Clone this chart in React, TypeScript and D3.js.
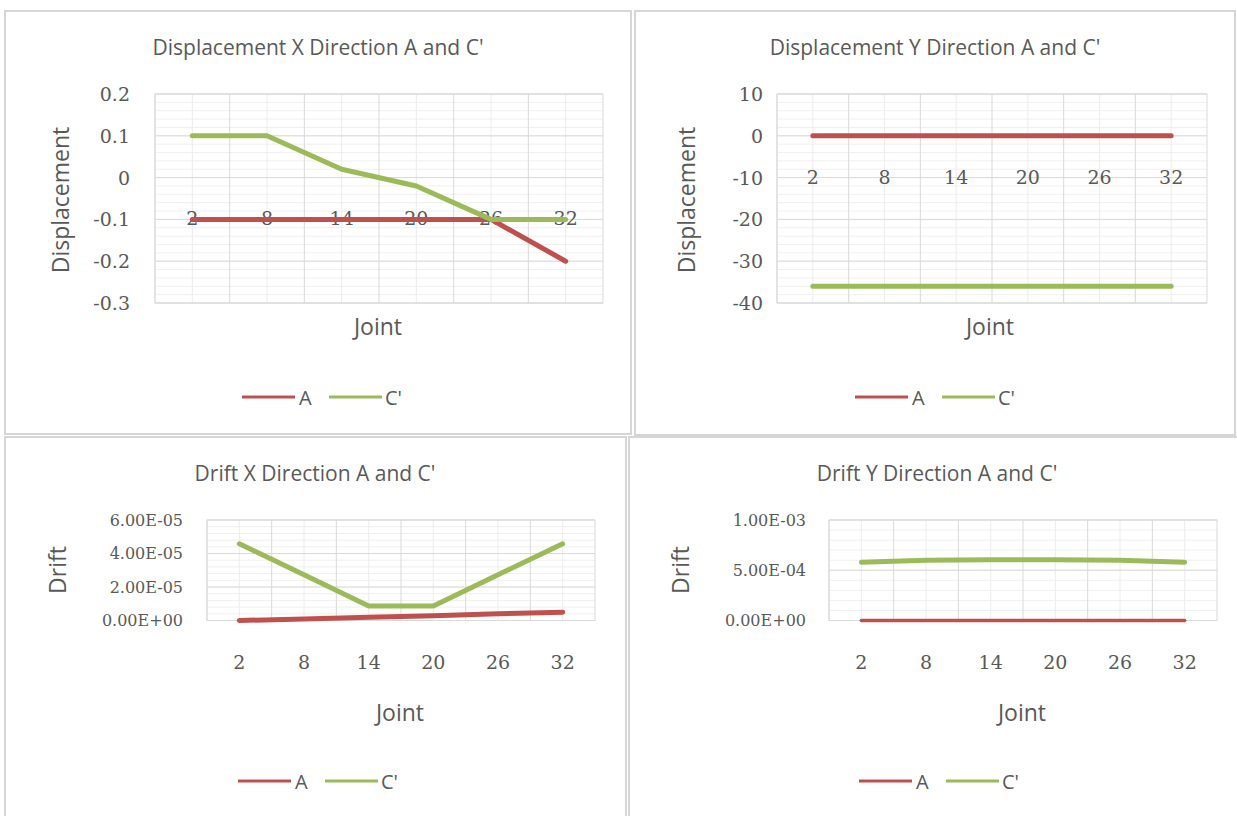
import React from "react";
import * as d3 from "d3";

// Joint identifiers along the category axis
const joints = ["2", "8", "14", "20", "26", "32"];

// Displacement, X direction
const dispXA = [-0.1, -0.1, -0.1, -0.1, -0.1, -0.2];
const dispXC = [0.1, 0.1, 0.02, -0.02, -0.1, -0.1];
const dispXTicks = [0.2, 0.1, 0, -0.1, -0.2, -0.3];
const dispXTickLabels = ["0.2", "0.1", "0", "-0.1", "-0.2", "-0.3"];

// Displacement, Y direction
const dispYA = [0, 0, 0, 0, 0, 0];
const dispYC = [-36, -36, -36, -36, -36, -36];
const dispYTicks = [10, 0, -10, -20, -30, -40];
const dispYTickLabels = ["10", "0", "-10", "-20", "-30", "-40"];

// Drift, X direction
const driftXA = [0, 0.9e-6, 2.0e-6, 2.9e-6, 4.1e-6, 4.9e-6];
const driftXC = [4.58e-5, 2.73e-5, 8.7e-6, 8.7e-6, 2.73e-5, 4.58e-5];
const driftXTicks = [6e-5, 4e-5, 2e-5, 0];
const driftXTickLabels = ["6.00E-05", "4.00E-05", "2.00E-05", "0.00E+00"];

// Drift, Y direction
const driftYA = [0, 0, 0, 0, 0, 0];
const driftYC = [5.8e-4, 6.0e-4, 6.05e-4, 6.05e-4, 6.0e-4, 5.8e-4];
const driftYTicks = [1e-3, 5e-4, 0];
const driftYTickLabels = ["1.00E-03", "5.00E-04", "0.00E+00"];

const seriesNames = ["A", "C'"];
const RED = "#C0504D";
const GREEN = "#9BBB59";
const TEXT = "#595959";
const SANS = "'Open Sans', sans-serif";
const SERIF = "'DejaVu Serif', serif";

type PanelProps = {
  box: { x: number; y: number; w: number; h: number };
  plot: { l: number; r: number; t: number; b: number };
  title: string;
  titlePos: [number, number];
  yTitle: string;
  yTitlePos: [number, number];
  xTitlePos: [number, number];
  legendPos: [number, number];
  ticks: number[];
  tickLabels: string[];
  yLabelRight: number;
  yFont: number;
  xLabelY: number;
  a: number[];
  c: number[];
  aWidth: number;
  cWidth: number;
};

function Panel(p: PanelProps) {
  const { plot } = p;
  const yMin = d3.min(p.ticks) as number;
  const yMax = d3.max(p.ticks) as number;
  const y = d3.scaleLinear().domain([yMin, yMax]).range([plot.b, plot.t]);
  const x = d3.scaleBand<string>().domain(joints).range([plot.l, plot.r]).padding(0);
  const cx = (j: string) => (x(j) as number) + x.bandwidth() / 2;

  const step = (yMax - yMin) / (p.ticks.length - 1);
  const minorTicks = d3.range(0, (p.ticks.length - 1) * 5 + 1).map((i) => yMin + (i * step) / 5);

  const line = d3
    .line<number>()
    .x((_, i) => cx(joints[i]))
    .y((v) => y(v));

  const [lx, ly] = p.legendPos;

  return (
    <g>
      <rect x={p.box.x} y={p.box.y} width={p.box.w} height={p.box.h} fill="#fff" stroke="#d6d6d6" strokeWidth={2} />
      <text x={p.titlePos[0]} y={p.titlePos[1]} textAnchor="middle" dominantBaseline="central" fontFamily={SANS} fontSize={21} fill={TEXT}>
        {p.title}
      </text>
      {/* minor horizontal grid */}
      {minorTicks.map((v, i) => (
        <line key={"mh" + i} x1={plot.l} x2={plot.r} y1={y(v)} y2={y(v)} stroke="#efefef" strokeWidth={1} />
      ))}
      {/* minor vertical grid at category centres */}
      {joints.map((j) => (
        <line key={"mv" + j} x1={cx(j)} x2={cx(j)} y1={plot.t} y2={plot.b} stroke="#ececec" strokeWidth={1} />
      ))}
      {/* major vertical grid at category boundaries */}
      {joints.map((j) => (
        <line key={"v" + j} x1={x(j) as number} x2={x(j) as number} y1={plot.t} y2={plot.b} stroke="#d9d9d9" strokeWidth={1} />
      ))}
      {/* major horizontal grid */}
      {p.ticks.map((v, i) => (
        <line key={"h" + i} x1={plot.l} x2={plot.r} y1={y(v)} y2={y(v)} stroke="#d9d9d9" strokeWidth={1} />
      ))}
      <rect x={plot.l} y={plot.t} width={plot.r - plot.l} height={plot.b - plot.t} fill="none" stroke="#d9d9d9" strokeWidth={1} />
      {/* y tick labels */}
      {p.ticks.map((v, i) => (
        <text key={"yt" + i} x={p.yLabelRight} y={y(v)} textAnchor="end" dominantBaseline="central" fontFamily={SERIF} fontSize={p.yFont} fill={TEXT}>
          {p.tickLabels[i]}
        </text>
      ))}
      {/* category labels */}
      {joints.map((j) => (
        <text key={"xt" + j} x={cx(j)} y={p.xLabelY} textAnchor="middle" dominantBaseline="central" fontFamily={SERIF} fontSize={19} fill={TEXT}>
          {j}
        </text>
      ))}
      <path d={line(p.a) as string} fill="none" stroke={RED} strokeWidth={p.aWidth} strokeLinecap="round" strokeLinejoin="round" />
      <path d={line(p.c) as string} fill="none" stroke={GREEN} strokeWidth={p.cWidth} strokeLinecap="round" strokeLinejoin="round" />
      <text
        transform={`translate(${p.yTitlePos[0]},${p.yTitlePos[1]}) rotate(-90)`}
        textAnchor="middle"
        dominantBaseline="central"
        fontFamily={SANS}
        fontSize={23}
        fill={TEXT}
      >
        {p.yTitle}
      </text>
      <text x={p.xTitlePos[0]} y={p.xTitlePos[1]} textAnchor="middle" dominantBaseline="central" fontFamily={SANS} fontSize={23} fill={TEXT}>
        Joint
      </text>
      {/* legend */}
      <line x1={lx - 82} x2={lx - 29} y1={ly} y2={ly} stroke={RED} strokeWidth={3} />
      <text x={lx - 25} y={ly} dominantBaseline="central" fontFamily={SANS} fontSize={20} fill={TEXT}>
        {seriesNames[0]}
      </text>
      <line x1={lx + 5} x2={lx + 58} y1={ly} y2={ly} stroke={GREEN} strokeWidth={3} />
      <text x={lx + 61} y={ly} dominantBaseline="central" fontFamily={SANS} fontSize={20} fill={TEXT}>
        {seriesNames[1]}
      </text>
    </g>
  );
}

export default function App() {
  return (
    <svg width={1237} height={816} style={{ position: "absolute", left: 0, top: 0 }}>
      <rect x={0} y={0} width={1237} height={816} fill="#fff" />
      <Panel
        box={{ x: 5, y: 11, w: 626, h: 423 }}
        plot={{ l: 155, r: 603, t: 94, b: 303 }}
        title="Displacement X Direction A and C'"
        titlePos={[318, 47]}
        yTitle="Displacement"
        yTitlePos={[60, 200]}
        xTitlePos={[378, 326]}
        legendPos={[324, 397]}
        ticks={dispXTicks}
        tickLabels={dispXTickLabels}
        yLabelRight={130}
        yFont={19}
        xLabelY={218}
        a={dispXA}
        c={dispXC}
        aWidth={5}
        cWidth={5}
      />
      <Panel
        box={{ x: 635, y: 11, w: 600, h: 424 }}
        plot={{ l: 777, r: 1207, t: 94, b: 303 }}
        title="Displacement Y Direction A and C'"
        titlePos={[935, 47]}
        yTitle="Displacement"
        yTitlePos={[686, 200]}
        xTitlePos={[990, 326]}
        legendPos={[937, 397]}
        ticks={dispYTicks}
        tickLabels={dispYTickLabels}
        yLabelRight={763}
        yFont={19}
        xLabelY={177}
        a={dispYA}
        c={dispYC}
        aWidth={5}
        cWidth={5}
      />
      <Panel
        box={{ x: 5, y: 437, w: 621, h: 392 }}
        plot={{ l: 207, r: 595, t: 520, b: 620.5 }}
        title="Drift X Direction A and C'"
        titlePos={[315, 473]}
        yTitle="Drift"
        yTitlePos={[57, 570]}
        xTitlePos={[400, 712]}
        legendPos={[320, 781]}
        ticks={driftXTicks}
        tickLabels={driftXTickLabels}
        yLabelRight={183}
        yFont={16}
        xLabelY={662}
        a={driftXA}
        c={driftXC}
        aWidth={5}
        cWidth={5}
      />
      <Panel
        box={{ x: 629, y: 437, w: 620, h: 392 }}
        plot={{ l: 829, r: 1217, t: 520, b: 620.5 }}
        title="Drift Y Direction A and C'"
        titlePos={[937, 473]}
        yTitle="Drift"
        yTitlePos={[680, 570]}
        xTitlePos={[1022, 712]}
        legendPos={[941, 781]}
        ticks={driftYTicks}
        tickLabels={driftYTickLabels}
        yLabelRight={806}
        yFont={16}
        xLabelY={662}
        a={driftYA}
        c={driftYC}
        aWidth={3.5}
        cWidth={5}
      />
    </svg>
  );
}
